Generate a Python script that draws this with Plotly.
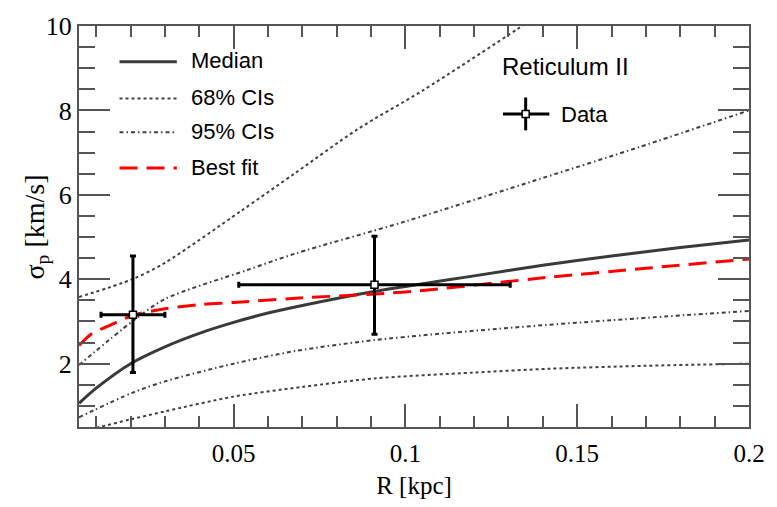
import plotly.graph_objects as go

# ---- data ----
median_x = [0.005, 0.01, 0.02, 0.03, 0.04, 0.05, 0.06, 0.07, 0.09, 0.1, 0.12, 0.14, 0.16, 0.18, 0.2]
median_y = [1.06, 1.42, 2.0, 2.4, 2.72, 2.98, 3.2, 3.38, 3.7, 3.83, 4.08, 4.33, 4.55, 4.75, 4.93]

fit_x = [0.005, 0.0085, 0.014, 0.0205, 0.03, 0.04, 0.05, 0.068, 0.1, 0.142, 0.17, 0.2]
fit_y = [2.43, 2.7, 2.91, 3.14, 3.3, 3.4, 3.45, 3.55, 3.7, 4.05, 4.26, 4.48]

ci68_up_x = [0.005, 0.0205, 0.03, 0.052, 0.068, 0.086, 0.105, 0.133, 0.15, 0.2]
ci68_up_y = [3.58, 4.0, 4.39, 5.61, 6.52, 7.55, 8.47, 9.95, 10.9, 13.5]

ci68_lo_x = [0.005, 0.011, 0.02, 0.03, 0.05, 0.07, 0.091, 0.12, 0.142, 0.17, 0.2]
ci68_lo_y = [0.38, 0.5, 0.68, 0.87, 1.22, 1.45, 1.65, 1.79, 1.88, 1.95, 2.0]

ci95_up_x = [0.005, 0.0205, 0.03, 0.054, 0.068, 0.1, 0.14, 0.168, 0.2]
ci95_up_y = [1.97, 3.0, 3.53, 4.22, 4.61, 5.37, 6.4, 7.13, 8.0]

ci95_lo_x = [0.005, 0.0205, 0.03, 0.05, 0.068, 0.091, 0.132, 0.16, 0.2]
ci95_lo_y = [0.73, 1.31, 1.58, 2.0, 2.3, 2.56, 2.86, 3.03, 3.25]

data_x = [0.0207, 0.091]
data_y = [3.16, 3.87]
data_xerr = [0.0093, 0.0395]
data_yerr_plus = [1.39, 1.15]
data_yerr_minus = [1.37, 1.17]

legend_labels = ["Median", "68% CIs", "95% CIs", "Best fit"]
panel_title = "Reticulum II"
data_label = "Data"
x_title = "R [kpc]"
y_title = "σ<sub>p</sub> [km/s]"

# ---- styles ----
GRAY = "#3a3a3a"
s_median = dict(color=GRAY, width=3)
s_68 = dict(color="#404040", width=2, dash="3px,3px")
s_95 = dict(color="#404040", width=2, dash="4px,3px,1.5px,3px")
s_fit = dict(color="#ff0000", width=3, dash="18px,9px")
SANS = "Liberation Sans, Arial, sans-serif"
SERIF = "Liberation Serif, Times New Roman, serif"

fig = go.Figure()
for xs, ys, st in [(ci68_up_x, ci68_up_y, s_68), (ci68_lo_x, ci68_lo_y, s_68),
                   (ci95_up_x, ci95_up_y, s_95), (ci95_lo_x, ci95_lo_y, s_95),
                   (median_x, median_y, s_median), (fit_x, fit_y, s_fit)]:
    fig.add_trace(go.Scatter(x=xs, y=ys, mode="lines", line=dict(shape="spline", smoothing=0.8, **st),
                             showlegend=False, hoverinfo="skip"))

fig.add_trace(go.Scatter(
    x=data_x, y=data_y, mode="markers",
    marker=dict(symbol="square", size=7, color="white", line=dict(color="black", width=1.5)),
    error_x=dict(type="data", array=data_xerr, color="black", thickness=3, width=3),
    error_y=dict(type="data", symmetric=False, array=data_yerr_plus, arrayminus=data_yerr_minus,
                 color="black", thickness=3, width=3),
    showlegend=False))

# ---- manual legend (paper coords) ----
PL, PR, PT, PB = 79, 757, 18, 433
def px(xp):
    return (xp - PL) / (PR - PL)
def py(yp):
    return (PB - yp) / (PB - PT)

rows_y = [55, 93, 128, 165]
for lab, yy, st in zip(legend_labels, rows_y, [s_median, s_68, s_95, s_fit]):
    fig.add_shape(type="line", xref="paper", yref="paper", x0=px(120), x1=px(178), y0=py(yy), y1=py(yy),
                  line=st)
    fig.add_annotation(text=lab, xref="paper", yref="paper", x=px(190), y=py(yy - 1), xanchor="left",
                       yanchor="middle", showarrow=False, font=dict(family=SANS, size=22, color="black"))

fig.add_annotation(text=panel_title, xref="paper", yref="paper", x=px(571), y=py(60), xanchor="center",
                   yanchor="middle", showarrow=False, font=dict(family=SANS, size=24, color="black"))
# data legend symbol
fig.add_shape(type="line", xref="paper", yref="paper", x0=px(508), x1=px(555), y0=py(109), y1=py(109),
              line=dict(color="black", width=3))
fig.add_shape(type="line", xref="paper", yref="paper", x0=px(531), x1=px(531), y0=py(92), y1=py(126),
              line=dict(color="black", width=3))
fig.add_shape(type="rect", xref="paper", yref="paper", xsizemode="pixel", ysizemode="pixel",
              xanchor=px(531), yanchor=py(109), x0=-3.5, x1=3.5, y0=-3.5, y1=3.5,
              line=dict(color="black", width=1.5), fillcolor="white")
fig.add_annotation(text=data_label, xref="paper", yref="paper", x=px(565), y=py(110), xanchor="left",
                   yanchor="middle", showarrow=False, font=dict(family=SANS, size=22, color="black"))

# y-axis title as rotated annotation
fig.add_annotation(text=y_title, xref="paper", yref="paper", x=px(36), y=py(226), xanchor="center",
                   yanchor="middle", textangle=-90, showarrow=False,
                   font=dict(family=SERIF, size=28, color="black"))

AX = "#555555"
fig.update_xaxes(range=[0.005, 0.2], dtick=0.05, tick0=0, ticks="inside", ticklen=23, tickwidth=2,
                 tickcolor=AX, showline=True, linecolor=AX, linewidth=2, mirror="allticks",
                 showgrid=False, zeroline=False,
                 minor=dict(ticks="inside", dtick=0.01, ticklen=11, tickwidth=1.5, tickcolor=AX, showgrid=False),
                 tickfont=dict(family=SERIF, size=25, color="black"), ticklabelstandoff=3,
                 title=dict(text=x_title, font=dict(family=SERIF, size=25, color="black"), standoff=10))
fig.update_yaxes(range=[0.5, 10], dtick=2, tick0=0, ticks="inside", ticklen=31, tickwidth=2,
                 tickcolor=AX, showline=True, linecolor=AX, linewidth=2, mirror="allticks",
                 showgrid=False, zeroline=False,
                 minor=dict(ticks="inside", dtick=0.5, ticklen=16, tickwidth=1.5, tickcolor=AX, showgrid=False),
                 tickfont=dict(family=SERIF, size=26, color="black"), ticklabelstandoff=0)

fig.update_layout(width=777, height=507, margin=dict(l=PL, r=777 - PR, t=PT, b=507 - PB),
                  paper_bgcolor="white", plot_bgcolor="white")
fig.write_html("out.html")
